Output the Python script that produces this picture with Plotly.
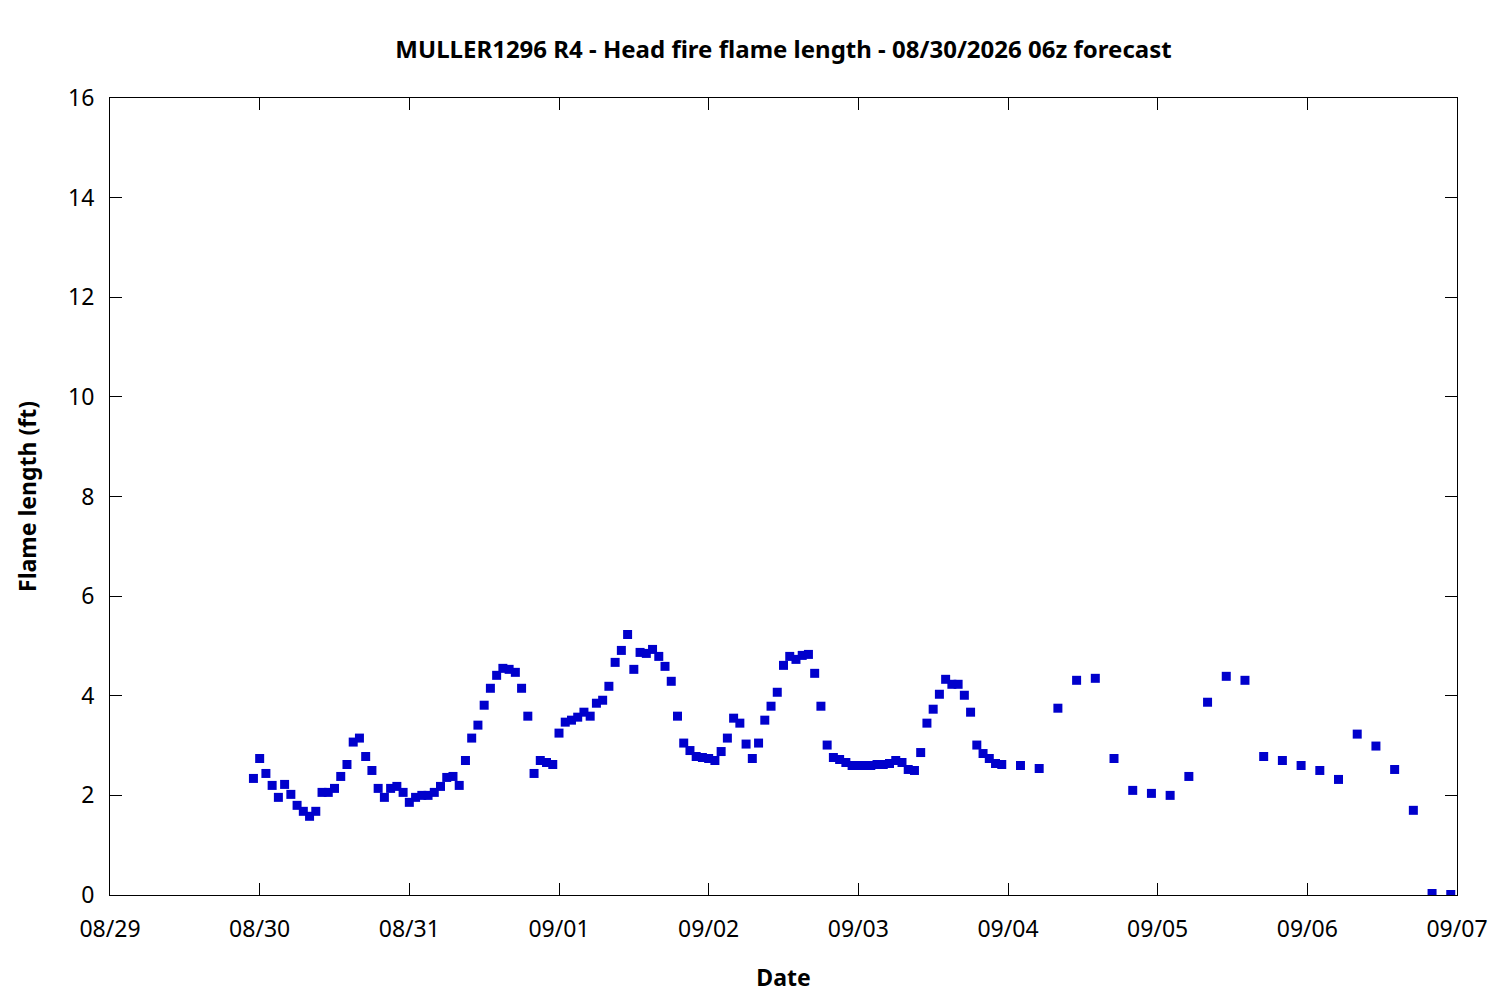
import pandas as pd
import plotly.graph_objects as go

TITLE = "MULLER1296 R4 - Head fire flame length - 08/30/2026 06z forecast"

# hourly forecast, 08/29 23:00 .. 09/03 23:00
hourly_start = "2026-08-29 23:00"
hourly_flame = [
    2.34, 2.74, 2.44, 2.20, 1.96, 2.22, 2.02, 1.80, 1.68, 1.58,
    1.68, 2.06, 2.06, 2.14, 2.38, 2.62, 3.07, 3.15, 2.78, 2.50,
    2.14, 1.96, 2.14, 2.18, 2.06, 1.86, 1.96, 2.00, 2.00, 2.06,
    2.18, 2.36, 2.38, 2.20, 2.70, 3.15, 3.41, 3.81, 4.15, 4.41,
    4.55, 4.53, 4.47, 4.15, 3.59, 2.44, 2.70, 2.66, 2.62, 3.25,
    3.47, 3.51, 3.57, 3.67, 3.59, 3.85, 3.91, 4.19, 4.67, 4.91,
    5.23, 4.53, 4.87, 4.85, 4.93, 4.79, 4.59, 4.29, 3.59, 3.05,
    2.90, 2.78, 2.76, 2.74, 2.70, 2.88, 3.15, 3.55, 3.45, 3.03,
    2.74, 3.05, 3.51, 3.79, 4.07, 4.61, 4.79, 4.73, 4.81, 4.83,
    4.45, 3.79, 3.01, 2.76, 2.72, 2.66, 2.60, 2.60,
    2.60, 2.60, 2.62, 2.62, 2.64, 2.70, 2.66, 2.52, 2.50, 2.86,
    3.45, 3.73, 4.03, 4.33, 4.23, 4.23, 4.01, 3.67, 3.01, 2.84,
    2.74, 2.64, 2.62,
]

# 3-hourly forecast, 09/04 02:00 .. 09/06 23:00
three_hourly_start = "2026-09-04 02:00"
three_hourly_flame = [
    2.60, 2.54, 3.75, 4.31, 4.35, 2.74, 2.10, 2.04,
    2.00, 2.38, 3.87, 4.39, 4.31, 2.78, 2.70, 2.60,
    2.50, 2.32, 3.23, 2.99, 2.52, 1.70, 0.03, 0.01,
]

x_range = ["2026-08-29", "2026-09-07"]
y_ticks = list(range(0, 17, 2))

times = list(pd.date_range(hourly_start, periods=len(hourly_flame), freq="h")) + \
    list(pd.date_range(three_hourly_start, periods=len(three_hourly_flame), freq="3h"))
flame = hourly_flame + three_hourly_flame

font = "Noto Sans"

fig = go.Figure(go.Scatter(
    x=times, y=flame, mode="markers",
    marker=dict(symbol="square", size=9, color="#0000CC", line=dict(width=0)),
    showlegend=False,
))

axis_common = dict(
    showline=True, linecolor="black", linewidth=1, mirror="ticks",
    ticks="inside", ticklen=12, tickcolor="black", tickwidth=1,
    showgrid=False, zeroline=False,
    tickfont=dict(family=font, size=23, color="black"),
)

# the page body adds an 8px offset, so margins are shifted to compensate
fig.update_layout(
    width=1500, height=1000,
    paper_bgcolor="white", plot_bgcolor="white",
    margin=dict(l=102, r=51, t=90, b=113),
    title=dict(text="<b>" + TITLE + "</b>", xref="paper", x=0.5, xanchor="center",
               y=0.958, yanchor="middle",
               font=dict(family=font, size=24, color="black")),
    xaxis=dict(
        axis_common, range=x_range, dtick=86400000, tickformat="%m/%d",
        ticklabelstandoff=13,
        title=dict(text="<b>Date</b>", standoff=27,
                   font=dict(family=font, size=23, color="black")),
    ),
    yaxis=dict(
        axis_common, range=[0, 16], tickvals=y_ticks,
        ticklabelstandoff=10,
        title=dict(text="<b>Flame length (ft)</b>", standoff=25,
                   font=dict(family=font, size=23, color="black")),
    ),
)

fig.write_html("out.html")
